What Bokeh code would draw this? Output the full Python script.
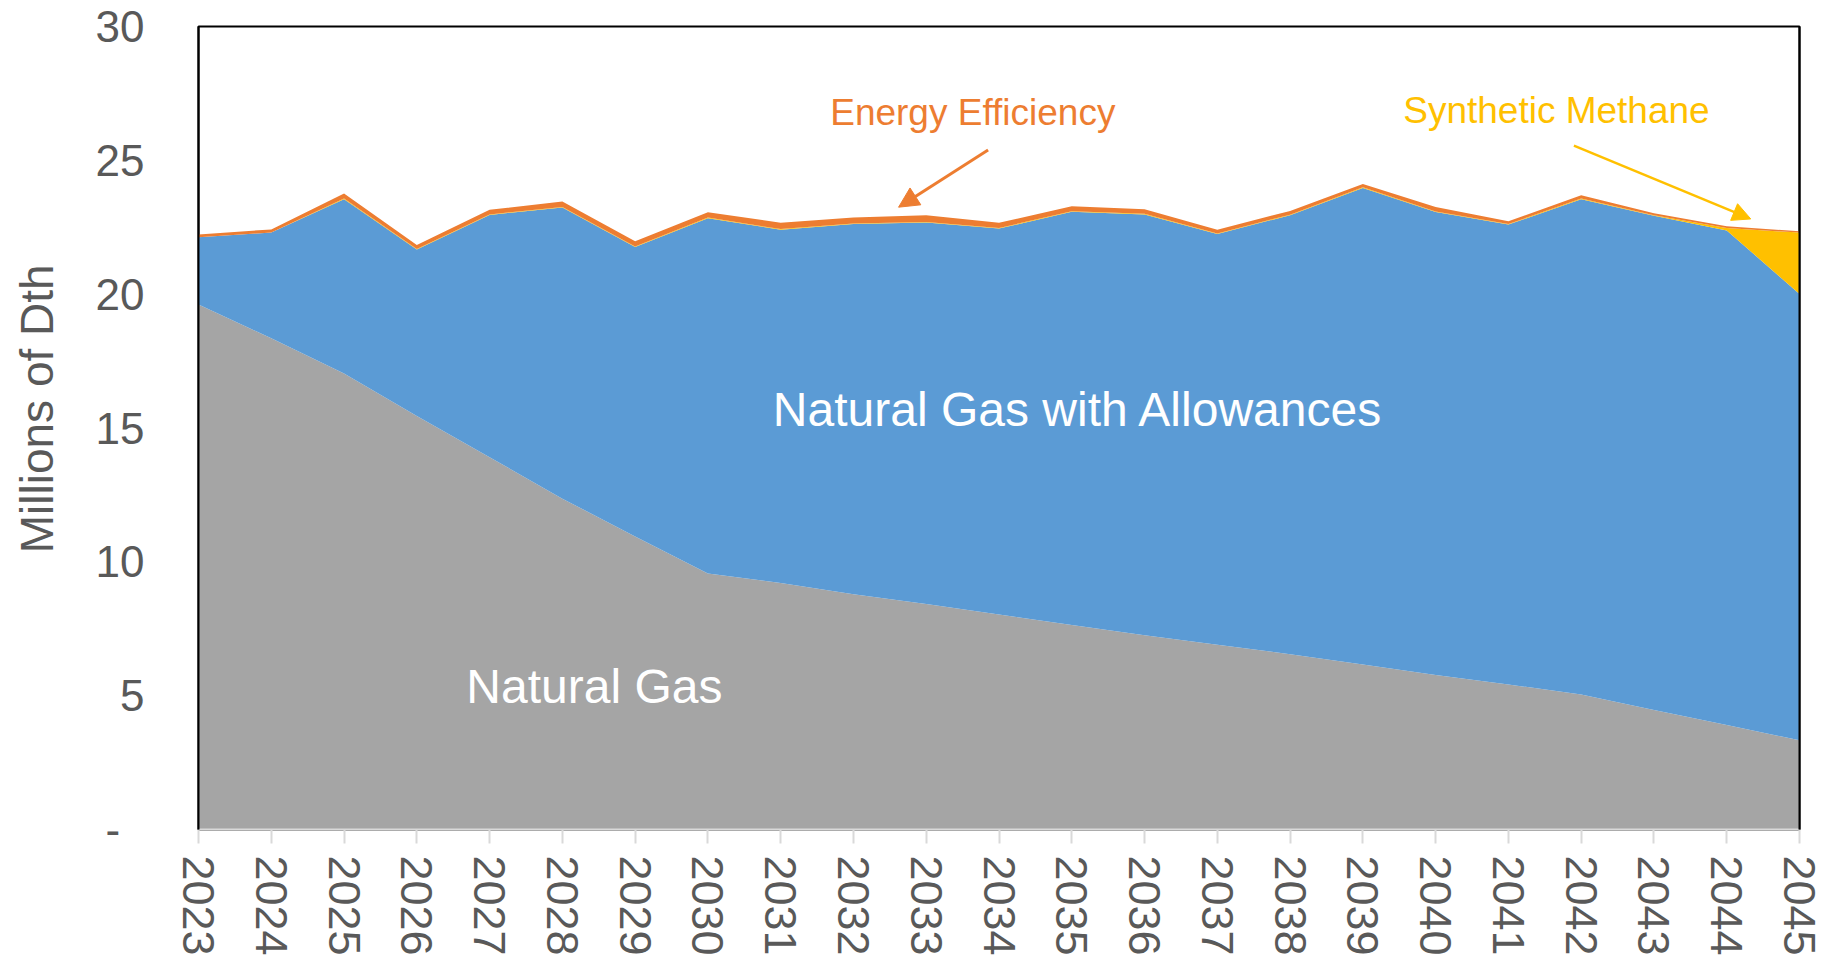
from bokeh.plotting import figure
from bokeh.models import (ColumnDataSource, Range1d, LinearAxis, FixedTicker,
                          Label, Arrow, NormalHead)
from bokeh.embed import file_html
from bokeh.resources import INLINE

# ---------------- data (Millions of Dth) ----------------
years = list(range(2023, 2046))
natural_gas = [19.61, 18.35, 17.04, 15.45, 13.91, 12.36, 10.95, 9.56, 9.21, 8.79,
               8.42, 8.03, 7.64, 7.26, 6.90, 6.55, 6.16, 5.77, 5.42, 5.04,
               4.46, 3.90, 3.33]
natural_gas_with_allowances = [2.52, 3.95, 6.51, 6.22, 9.05, 10.88, 10.81, 13.28,
                               13.20, 13.83, 14.26, 14.42, 15.44, 15.72, 15.35,
                               16.40, 17.81, 17.30, 17.18, 18.51, 18.47, 18.48, 16.68]
synthetic_methane = [0.00, 0.00, 0.02, 0.02, 0.02, 0.02, 0.02, 0.02, 0.02, 0.02,
                     0.02, 0.02, 0.02, 0.02, 0.02, 0.02, 0.02, 0.02, 0.02, 0.02,
                     0.02, 0.09, 2.29]
energy_efficiency = [0.10, 0.12, 0.19, 0.15, 0.17, 0.20, 0.20, 0.20, 0.24, 0.22,
                     0.25, 0.20, 0.18, 0.17, 0.14, 0.14, 0.13, 0.17, 0.10, 0.13,
                     0.07, 0.07, 0.05]
y_ticks = [0, 5, 10, 15, 20, 25, 30]

series_names = ["natural_gas", "natural_gas_with_allowances",
                "synthetic_methane", "energy_efficiency"]
series_colors = ["#A5A5A5", "#5B9BD5", "#FFC000", "#ED7D31"]

source = ColumnDataSource(dict(
    year=years,
    natural_gas=natural_gas,
    natural_gas_with_allowances=natural_gas_with_allowances,
    synthetic_methane=synthetic_methane,
    energy_efficiency=energy_efficiency,
))

FONT = "Liberation Sans"
TICK_COLOR = "#595959"
NBSP = "\u00a0"

p = figure(frame_width=1601, frame_height=803,
           x_range=Range1d(2023, 2045), y_range=Range1d(0, 30),
           output_backend="svg", toolbar_location=None,
           min_border_left=198, min_border_top=26,
           min_border_right=28, min_border_bottom=126,
           background_fill_color="white", border_fill_color="white")

p.varea_stack(stackers=series_names, x="year", color=series_colors, source=source)

p.grid.visible = False
p.outline_line_color = "black"
p.outline_line_width = 2

# x axis
xa = p.xaxis[0]
xa.ticker = FixedTicker(ticks=years)
xa.major_label_orientation = "vertical"
xa.major_label_text_font = FONT
xa.major_label_text_font_size = "45px"
xa.major_label_text_color = TICK_COLOR
xa.major_label_standoff = 12
xa.axis_line_color = "#D9D9D9"
xa.axis_line_width = 2
xa.major_tick_line_color = "#D9D9D9"
xa.major_tick_line_width = 2
xa.major_tick_out = 14
xa.major_tick_in = 0
xa.minor_tick_line_color = None

# y axis
ya = p.yaxis[0]
ya.ticker = FixedTicker(ticks=y_ticks)
ya.major_label_overrides = {0: "-" + NBSP * 2}
ya.major_label_text_font = FONT
ya.major_label_text_font_size = "44px"
ya.major_label_text_color = TICK_COLOR
ya.major_label_standoff = 48
ya.axis_line_color = "black"
ya.axis_line_width = 2
ya.major_tick_line_color = None
ya.minor_tick_line_color = None
ya.axis_label = NBSP * 3 + "Millions of Dth"
ya.axis_label_text_font = FONT
ya.axis_label_text_font_size = "46px"
ya.axis_label_text_font_style = "normal"
ya.axis_label_text_color = TICK_COLOR
ya.axis_label_standoff = 30

# right frame line
ra = LinearAxis(ticker=FixedTicker(ticks=[]), axis_line_color="black",
                axis_line_width=2, major_tick_line_color=None,
                minor_tick_line_color=None, major_label_text_font_size="0px")
p.add_layout(ra, "right")

# ---------------- annotations ----------------
p.add_layout(Label(x=2035.09, y=15.69, text="Natural Gas with Allowances",
                   text_align="center", text_baseline="alphabetic",
                   text_font=FONT, text_font_size="48px", text_color="white"))
p.add_layout(Label(x=2028.44, y=5.34, text="Natural Gas",
                   text_align="center", text_baseline="alphabetic",
                   text_font=FONT, text_font_size="48px", text_color="white"))
p.add_layout(Label(x=2033.64, y=26.78, text="Energy Efficiency",
                   text_align="center", text_baseline="alphabetic",
                   text_font=FONT, text_font_size="37px", text_color="#ED7D31"))
p.add_layout(Label(x=2041.66, y=26.86, text="Synthetic Methane",
                   text_align="center", text_baseline="alphabetic",
                   text_font=FONT, text_font_size="37px", text_color="#FFC000"))

p.add_layout(Arrow(end=NormalHead(size=20, fill_color="#ED7D31", line_color="#ED7D31"),
                   x_start=2033.85, y_start=25.39, x_end=2032.62, y_end=23.25,
                   line_color="#ED7D31", line_width=3))
p.add_layout(Arrow(end=NormalHead(size=18, fill_color="#FFC000", line_color="#FFC000"),
                   x_start=2041.90, y_start=25.55, x_end=2044.33, y_end=22.81,
                   line_color="#FFC000", line_width=2.5))

open("out.html", "w").write(file_html(p, INLINE))
